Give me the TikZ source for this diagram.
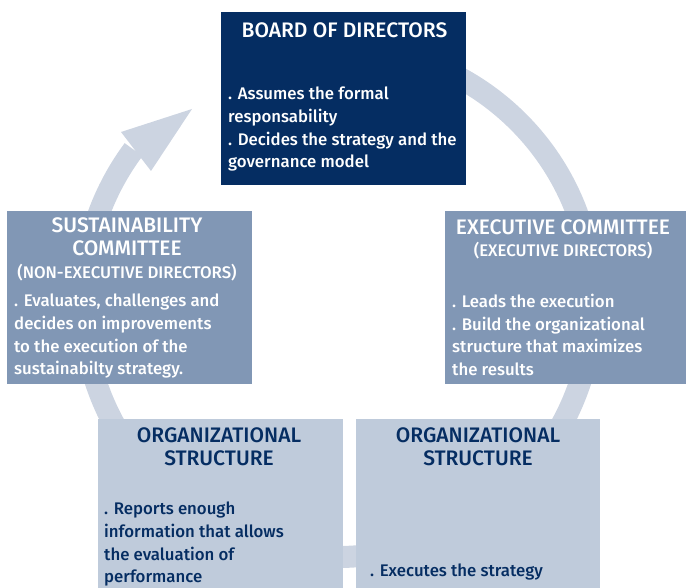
\documentclass[tikz,border=0pt]{standalone}
\usepackage{fontspec}
\setmainfont{Fira Sans}[UprightFont={* Medium}]
\definecolor{boardblue}{RGB}{5,45,98}
\definecolor{midblue}{RGB}{129,151,181}
\definecolor{paleblue}{RGB}{191,203,219}
\definecolor{ringgrey}{RGB}{204,212,225}

\begin{document}
\begin{tikzpicture}[x=1pt,y=1pt,
  box/.style={rectangle,inner sep=0,outer sep=0,anchor=north west},
  boxtitle/.style={font=\fontsize{21}{23.5}\selectfont,align=center,inner sep=0},
  boxsub/.style={font=\fontsize{16.8}{20}\selectfont,inner sep=0,anchor=base},
  boxbody/.style={font=\fontsize{16.8}{22.7}\selectfont,align=left,anchor=north west,inner sep=0}]

\useasboundingbox (0,0) rectangle (686,588);

% ring behind the boxes, ending in the arrow head
\coordinate (ringcentre) at (338,286);
\coordinate (headtip) at (192,479);
\coordinate (headwingA) at (121,456);
\coordinate (headwingB) at (151,417);
\draw[ringgrey,line width=22] (ringcentre) ++(95:255) arc[start angle=95,end angle=-216.7,radius=255];
\fill[ringgrey] (headwingA) -- (headtip) -- (headwingB) -- cycle;

\node (board) at (221,576) [box,fill=boardblue,minimum width=245,minimum height=173] {};
\node (sustain) at (7,377) [box,fill=midblue,minimum width=245,minimum height=173] {};
\node (exec) at (445,377) [box,fill=midblue,minimum width=241,minimum height=173] {};
\node (orgleft) at (98,169) [box,fill=paleblue,minimum width=245,minimum height=169] {};
\node (orgright) at (356,169) [box,fill=paleblue,minimum width=244,minimum height=169] {};

% board of directors
\node (boardtitle) at (344.5,550) [boxtitle,anchor=base,text=white] {BOARD OF DIRECTORS};
\node (boardtext) at (228,501) [boxbody,text=white] {. Assumes the formal\\responsability\\. Decides the strategy and the\\governance model};

% sustainability committee
\node (sustaintitle) at (127,371) [boxtitle,anchor=north,text=white] {SUSTAINABILITY\\COMMITTEE};
\node (sustainsub) at (127,309) [boxsub,text=white] {(NON-EXECUTIVE DIRECTORS)};
\node (sustaintext) at (14,294) [boxbody,text=white] {. Evaluates, challenges and\\decides on improvements\\to the execution of the\\sustainabilty strategy.};

% executive committee
\node (exectitle) at (563,353) [boxtitle,anchor=base,text=white] {EXECUTIVE COMMITTEE};
\node (execsub) at (563,331) [boxsub,text=white] {(EXECUTIVE DIRECTORS)};
\node (exectext) at (452,294) [boxbody,text=white] {. Leads the execution\\. Build the organizational\\structure that maximizes\\the results};

% organizational structure
\node (orglefttitle) at (219,161) [boxtitle,anchor=north,text=boardblue] {ORGANIZATIONAL\\STRUCTURE};
\node (orglefttext) at (104,86) [boxbody,text=boardblue] {. Reports enough\\information that allows\\the evaluation of\\performance};
\node (orgrighttitle) at (478,161) [boxtitle,anchor=north,text=boardblue] {ORGANIZATIONAL\\STRUCTURE};
\node (orgrighttext) at (370,11) [boxbody,anchor=base west,text=boardblue] {. Executes the strategy};

\end{tikzpicture}
\end{document}
